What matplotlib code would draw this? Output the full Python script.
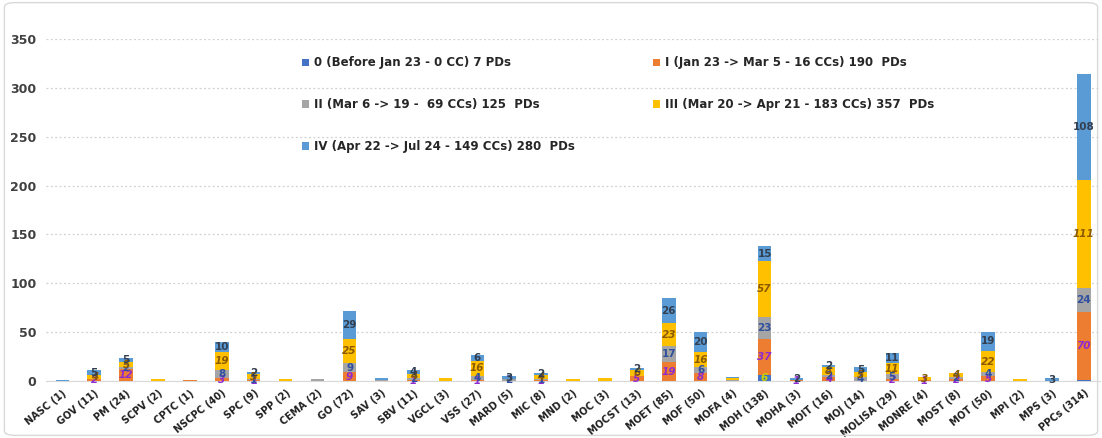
import matplotlib
matplotlib.use("Agg")
import matplotlib.pyplot as plt
import numpy as np
from matplotlib.patches import Patch, FancyBboxPatch

categories = ["NASC (1)", "GOV (11)", "PM (24)", "SCPV (2)", "CPTC (1)", "NSCPC (40)", "SPC (9)",
              "SPP (2)", "CEMA (2)", "GO (72)", "SAV (3)", "SBV (11)", "VGCL (3)", "VSS (27)",
              "MARD (5)", "MIC (8)", "MND (2)", "MOC (3)", "MOCST (13)", "MOET (85)", "MOF (50)",
              "MOFA (4)", "MOH (138)", "MOHA (3)", "MOIT (16)", "MOJ (14)", "MOLISA (29)",
              "MONRE (4)", "MOST (8)", "MOT (50)", "MPI (2)", "MPS (3)", "PPCs (314)"]

phase0 = [0, 0, 0, 0, 0, 0, 0, 0, 0, 0, 0, 0, 0, 0, 0, 0, 0, 0, 0, 0, 0, 0, 6, 0, 0, 0, 0, 0, 0, 0, 0, 0, 1]
phase1 = [0, 2, 12, 0, 1, 3, 1, 0, 0, 9, 0, 1, 0, 1, 0, 1, 0, 0, 5, 19, 8, 0, 37, 1, 4, 0, 2, 1, 2, 5, 0, 0, 70]
phase2 = [0, 0, 2, 0, 0, 8, 1, 0, 2, 9, 1, 2, 0, 4, 2, 1, 0, 0, 0, 17, 6, 1, 23, 0, 2, 4, 5, 0, 2, 4, 0, 0, 24]
phase3 = [0, 4, 5, 2, 0, 19, 5, 2, 0, 25, 0, 4, 3, 16, 0, 4, 2, 3, 6, 23, 16, 2, 57, 0, 8, 5, 11, 3, 4, 22, 2, 0, 111]
phase4 = [1, 5, 5, 0, 0, 10, 2, 0, 0, 29, 2, 4, 0, 6, 3, 2, 0, 0, 2, 26, 20, 1, 15, 2, 2, 5, 11, 0, 0, 19, 0, 3, 108]

series_names = ["0 (Before Jan 23 - 0 CC) 7 PDs",
                "I (Jan 23 -> Mar 5 - 16 CCs) 190  PDs",
                "II (Mar 6 -> 19 -  69 CCs) 125  PDs",
                "III (Mar 20 -> Apr 21 - 183 CCs) 357  PDs",
                "IV (Apr 22 -> Jul 24 - 149 CCs) 280  PDs"]

# categories whose segments carry data labels
labelled = ["GOV (11)", "PM (24)", "NSCPC (40)", "SPC (9)", "GO (72)", "SBV (11)", "VSS (27)",
            "MARD (5)", "MIC (8)", "MOCST (13)", "MOET (85)", "MOF (50)", "MOH (138)", "MOHA (3)",
            "MOIT (16)", "MOJ (14)", "MOLISA (29)", "MONRE (4)", "MOST (8)", "MOT (50)",
            "MPS (3)", "PPCs (314)"]

yticks = [0, 50, 100, 150, 200, 250, 300, 350]

colors = ["#4472C4", "#ED7D31", "#A5A5A5", "#FFC000", "#5B9BD5"]
label_colors = ["#C8D400", "#8E2BD0", "#2F4F9F", "#8A5A00", "#333F50"]
label_styles = ["italic", "italic", "normal", "italic", "normal"]

fig = plt.figure(figsize=(11.02, 4.38), dpi=100)
ax = fig.add_axes([0.042, 0.130, 0.956, 0.781])

x = np.arange(len(categories))
data = [phase0, phase1, phase2, phase3, phase4]
bottom = np.zeros(len(categories))
bars = []
for vals, c in zip(data, colors):
    v = np.array(vals, dtype=float)
    ax.bar(x, v, 0.42, bottom=bottom, color=c, zorder=3)
    bars.append((v, bottom.copy()))
    bottom += v

for si, (v, bot) in enumerate(bars):
    for i, cat in enumerate(categories):
        if v[i] > 0 and cat in labelled and not (si == 0 and v[i] < 2):
            ax.text(x[i], bot[i] + v[i] / 2, f"{int(v[i])}", ha="center", va="center",
                    fontsize=7.5, fontweight="bold", fontstyle=label_styles[si],
                    color=label_colors[si], zorder=4)

ax.set_xlim(-0.5, len(categories) - 0.5)
ax.set_ylim(0, 350)
ax.set_yticks(yticks)
ax.set_yticklabels([str(t) for t in yticks], fontsize=9, fontweight="bold", color="#404040")
ax.set_xticks(x)
ax.set_xticklabels(categories, rotation=39, ha="right", rotation_mode="anchor",
                   fontsize=7, fontweight="bold", color="#202020")
ax.tick_params(axis="both", length=0)
ax.tick_params(axis="y", pad=7)
ax.tick_params(axis="x", pad=5)
for s in ["top", "right", "left"]:
    ax.spines[s].set_visible(False)
ax.spines["bottom"].set_color("#D9D9D9")
ax.yaxis.grid(True, linestyle=(0, (1.5, 2)), color="#D0D0D0", linewidth=0.9, zorder=0)
ax.set_axisbelow(True)

handles = [Patch(facecolor=c) for c in colors]
order = [0, 2, 4, 1, 3]
leg = ax.legend([handles[i] for i in order], [series_names[i] for i in order],
                ncol=2, loc="upper left", bbox_to_anchor=(0.233, 0.98), frameon=False,
                prop={"size": 8.5, "weight": "bold"}, handlelength=0.6, handleheight=0.6,
                handletextpad=0.4, labelspacing=2.45, columnspacing=6.6)
for t in leg.get_texts():
    t.set_color("#262626")

fig.patches.append(FancyBboxPatch((0.004, 0.006), 0.992, 0.988, boxstyle="round,pad=0,rounding_size=0.01",
                                  transform=fig.transFigure, fill=False, edgecolor="#D9D9D9",
                                  linewidth=1.0))

fig.savefig("out.png", dpi=100)
